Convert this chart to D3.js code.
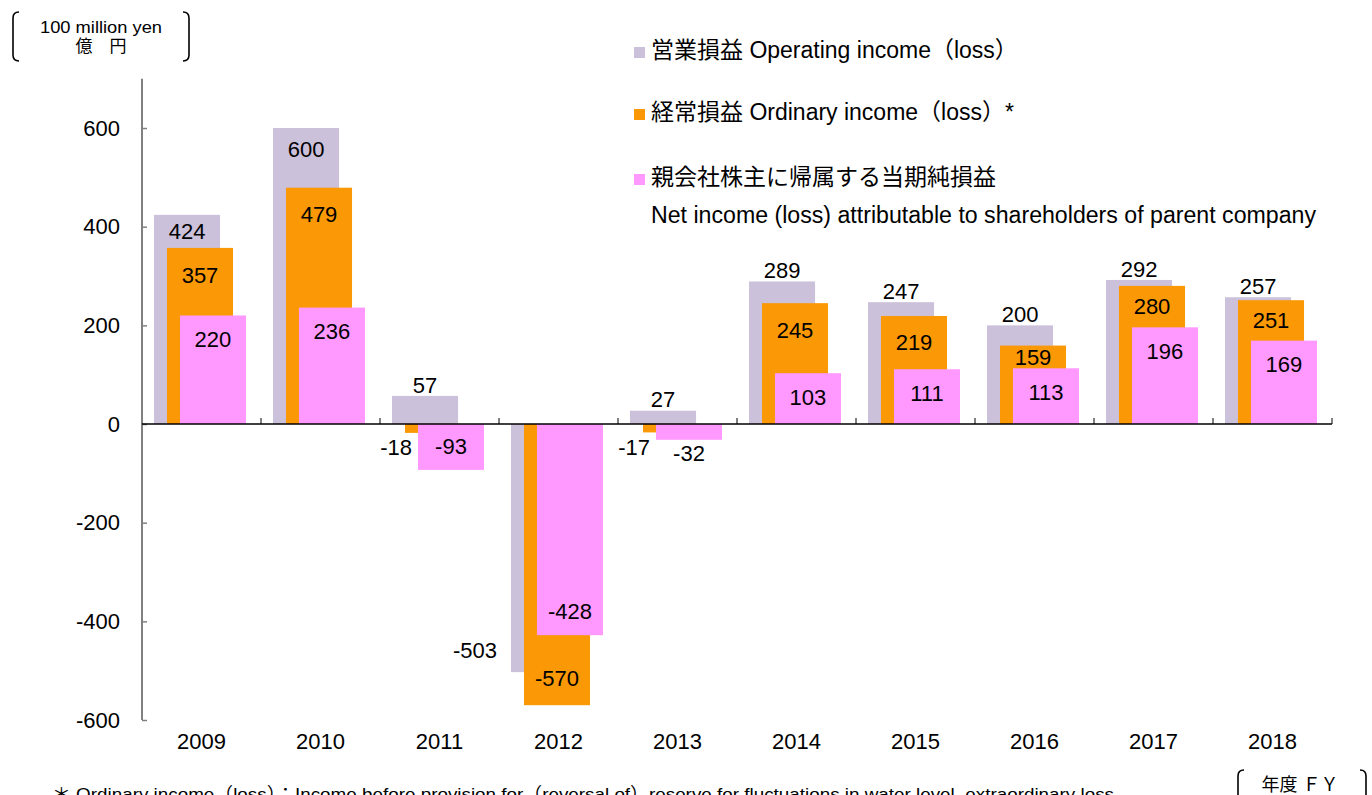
<!DOCTYPE html>
<html><head><meta charset="utf-8">
<script src="https://cdn.jsdelivr.net/npm/d3@7"></script>
<style>
html,body{margin:0;padding:0;background:#fff;overflow:hidden}
text{font-family:"Liberation Sans",Arial,"Noto Sans CJK JP",sans-serif;fill:#000}
</style></head><body>
<svg id="c" width="1372" height="795"></svg>
<script>
// ---- data ----
const years = ["2009","2010","2011","2012","2013","2014","2015","2016","2017","2018"];
const operatingIncome = [424, 600, 57, -503, 27, 289, 247, 200, 292, 257];
const ordinaryIncome  = [357, 479, -18, -570, -17, 245, 219, 159, 280, 251];
const netIncome       = [220, 236, -93, -428, -32, 103, 111, 113, 196, 169];
const yTicks = [-600, -400, -200, 0, 200, 400, 600];
const seriesNames = ["営業損益 Operating income（loss）", "経常損益 Ordinary income（loss）*", "親会社株主に帰属する当期純損益"];
const seriesNameEn3 = "Net income (loss) attributable to shareholders of parent company";
const unitLabel = ["100 million yen", "億　円"];
const fyLabel = "年度 ＦＹ";
const footnote = "＊ Ordinary income（loss）：Income before provision for（reversal of）reserve for fluctuations in water level, extraordinary loss";

// label placement modes (presentation)
const labelModes = [
  ["in","in","out","left","out","out","out","out","out","out"],
  ["in","in","left","in","left","in","in","in","in","in"],
  ["in","in","in","in","out","in","in","in","in","in"]
];

const svg = d3.select("#c");
const colors = ["#CCC1DA", "#FB9806", "#FF99FF"];
const x = d3.scaleBand().domain(years).range([142, 1332]).padding(0);
const y = d3.scaleLinear().domain([-600, 700]).range([720, 78.7]);
const bw = x.bandwidth();
const offs = [0.101, 0.21, 0.319];
const wFrac = 0.555;
const maxInsets = [21, 27, 24];
const series = [operatingIncome, ordinaryIncome, netIncome];
const FS = 22;

// bars
series.forEach((vals, si) => {
  svg.append("g").selectAll("rect").data(vals).join("rect")
    .attr("x", (d,i) => x(years[i]) + bw*offs[si])
    .attr("width", bw*wFrac)
    .attr("y", d => y(Math.max(0,d)))
    .attr("height", d => Math.abs(y(d) - y(0)))
    .attr("fill", colors[si]);
});

// axes
const yAxis = d3.axisRight(y).tickValues(yTicks).tickSize(5).tickFormat("");
const gy = svg.append("g").attr("transform","translate(142,0)").call(yAxis);
gy.select(".domain").attr("stroke","#808080").attr("stroke-width",2).attr("d","M0,78.7V720");
gy.selectAll(".tick line").attr("stroke","#808080").attr("stroke-width",1.5);
svg.append("g").selectAll("text").data(yTicks).join("text")
  .attr("x",120).attr("y",d=>y(d)).attr("dy","0.35em").attr("text-anchor","end")
  .attr("font-size",FS).text(d=>d);

const bounds = years.map(yr => x(yr) + bw);
svg.append("line").attr("x1",142).attr("x2",1332).attr("y1",y(0)).attr("y2",y(0))
  .attr("stroke","#000").attr("stroke-width",1.3);
svg.append("g").selectAll("line").data(bounds).join("line")
  .attr("x1",d=>d).attr("x2",d=>d).attr("y1",y(0)).attr("y2",y(0)-6)
  .attr("stroke","#000").attr("stroke-width",1);
svg.append("g").selectAll("text").data(years).join("text")
  .attr("x",d=>x(d)+bw/2).attr("y",741.5).attr("dy","0.35em").attr("text-anchor","middle")
  .attr("font-size",FS).text(d=>d);

// value labels
series.forEach((vals, si) => {
  svg.append("g").selectAll("text").data(vals).join("text")
    .each(function(d,i){
      const mode = labelModes[si][i];
      const left = x(years[i]) + bw*offs[si];
      const w = bw*wFrac;
      const yEnd = y(d), y0 = y(0);
      let tx = left + w/2, ty, anchor = "middle";
      if (mode === "in") {
        let inset = maxInsets[si];
        if (si < 2 && d >= 0) {
          const next = series[si+1][i];
          if (next > 0) inset = Math.min(inset, (y(next) - yEnd) / 2);
        }
        ty = d >= 0 ? yEnd + inset : yEnd - inset;
      }
      else if (mode === "out") ty = d >= 0 ? yEnd - 11 : yEnd + 13;
      else { // left of bar
        ty = Math.max(yEnd - 22, y0 + 23);
        anchor = "end";
        tx = si === 0 ? left - 14 : left + 7;
      }
      d3.select(this).attr("x",tx).attr("y",ty).attr("dy","0.35em")
        .attr("text-anchor",anchor).attr("font-size",FS).text(d);
    });
});

// legend
const legY = [50, 112, 177];
legY.forEach((ly, i) => {
  svg.append("rect").attr("x",634).attr("y",ly-3).attr("width",11).attr("height",11).attr("fill",colors[i]);
  svg.append("text").attr("x",651).attr("y",ly).attr("dy","0.35em").attr("font-size",23).text(seriesNames[i]);
});
svg.append("text").attr("x",651).attr("y",215).attr("dy","0.35em").attr("font-size",23)
  .attr("textLength",665).attr("lengthAdjust","spacingAndGlyphs").text(seriesNameEn3);

// unit label with brackets
svg.append("text").attr("x",101).attr("y",27).attr("dy","0.35em").attr("text-anchor","middle").attr("font-size",17)
  .attr("textLength",122).attr("lengthAdjust","spacingAndGlyphs").text(unitLabel[0]);
svg.append("text").attr("x",101).attr("y",46).attr("dy","0.35em").attr("text-anchor","middle").attr("font-size",17).text(unitLabel[1]);
function brackets(x1, x2, y1, y2){
  const g = svg.append("g").attr("fill","none").attr("stroke","#000").attr("stroke-width",1.6);
  g.append("path").attr("d",`M${x1+6},${y1} Q${x1},${y1} ${x1},${y1+6} V${y2-6} Q${x1},${y2} ${x1+6},${y2}`);
  g.append("path").attr("d",`M${x2-6},${y1} Q${x2},${y1} ${x2},${y1+6} V${y2-6} Q${x2},${y2} ${x2-6},${y2}`);
}
brackets(13, 189, 12, 61);
brackets(1238, 1366, 770, 812);
svg.append("text").attr("x",1300).attr("y",785).attr("dy","0.35em").attr("text-anchor","middle").attr("font-size",18).text(fyLabel);

// footnote (sits at the bottom edge as in the original)
svg.append("text").attr("x",52).attr("y",800).attr("font-size",17).attr("textLength",1062).attr("lengthAdjust","spacingAndGlyphs").text(footnote);
</script>
</body></html>
